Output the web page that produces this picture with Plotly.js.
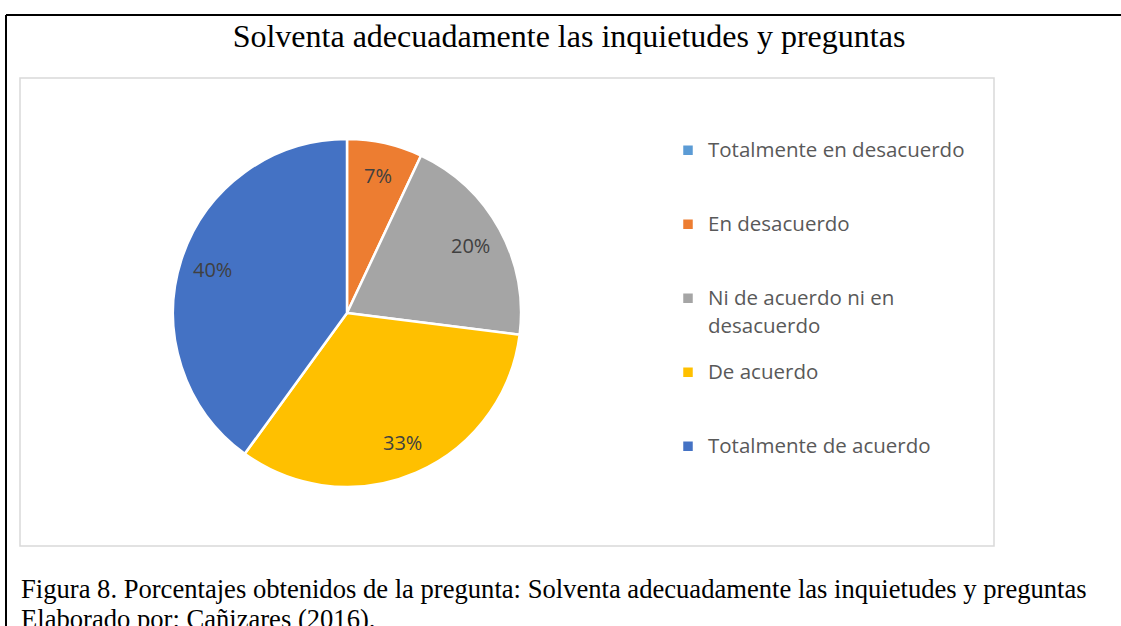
<!DOCTYPE html>
<html>
<head>
<meta charset="utf-8">
<script src="https://cdn.plot.ly/plotly-3.0.1.min.js"></script>
<style>
  html, body { margin: 0; padding: 0; background: #ffffff; }
  #chart { width: 1121px; height: 626px; }
</style>
</head>
<body>
<div id="chart"></div>
<script>
// ---- data ----
const chartTitle = 'Solventa adecuadamente las inquietudes y preguntas';
const categories = ['Totalmente en desacuerdo', 'En desacuerdo', 'Ni de acuerdo ni en<br>desacuerdo', 'De acuerdo', 'Totalmente de acuerdo'];
const percentages = [0, 7, 20, 33, 40];
const captionLines = [
  'Figura 8. Porcentajes obtenidos de la pregunta: Solventa adecuadamente las inquietudes y preguntas',
  'Elaborado por: Cañizares (2016).'
];

// ---- styles ----
const sliceColors = ['#5B9BD5', '#ED7D31', '#A5A5A5', '#FFC000', '#4472C4'];
const W = 1121, H = 626;
const px = v => v / W;
const py = v => 1 - v / H;
const pieDomain = { x: [px(173), px(521)], y: [py(487), py(139)] };
const labelFont = '"Open Sans", Lato, sans-serif';
const serifFont = '"Liberation Serif", "Times New Roman", serif';

// legend labels: every entry padded to 3 lines so entries are evenly spaced
const legendLabels = categories.map(c => {
  const lines = c.split('<br>').map((l, j) =>
    '<span style="font-size:20.5px' + (j > 0 ? ';baseline-shift:-4px' : '') + '">' + l + '</span>');
  while (lines.length < 3) lines.push(' ');
  return lines.join('<br>');
});

// data labels positioned along each slice bisector
const total = percentages.reduce((a, b) => a + b, 0);
const cxP = (pieDomain.x[0] + pieDomain.x[1]) / 2;
const cyP = (pieDomain.y[0] + pieDomain.y[1]) / 2;
const rPx = Math.min((pieDomain.x[1] - pieDomain.x[0]) * W, (pieDomain.y[1] - pieDomain.y[0]) * H) / 2;
const labelAnn = [];
let cum = 0;
percentages.forEach((v, i) => {
  const mid = (cum + v / 2) / total * 2 * Math.PI;
  cum += v;
  if (v <= 0) return;
  const rr = rPx * 0.81;
  labelAnn.push({
    xref: 'paper', yref: 'paper',
    x: cxP + rr * Math.sin(mid) / W,
    y: cyP + rr * Math.cos(mid) / H,
    xanchor: 'center', yanchor: 'middle',
    text: Math.round(v / total * 100) + '%',
    showarrow: false,
    font: { family: labelFont, size: 20, color: '#404040' }
  });
});

const captionAnn = captionLines.map((t, i) => ({
  xref: 'paper', yref: 'paper',
  x: px(19), y: py(589 + i * 30),
  xanchor: 'left', yanchor: 'middle',
  text: t, showarrow: false,
  font: { family: serifFont, size: 26.6, color: '#000000' }
}));

const trace = {
  type: 'pie',
  labels: legendLabels,
  values: percentages,
  sort: false,
  direction: 'clockwise',
  rotation: 0,
  textinfo: 'none',
  hoverinfo: 'skip',
  domain: pieDomain,
  marker: { colors: sliceColors, line: { color: '#ffffff', width: 2.5 } }
};

const layout = {
  width: W, height: H,
  margin: { l: 0, r: 0, t: 0, b: 0 },
  paper_bgcolor: '#ffffff',
  plot_bgcolor: '#ffffff',
  title: {
    text: chartTitle,
    xref: 'paper', yref: 'container',
    x: px(569), y: py(36), xanchor: 'center', yanchor: 'middle',
    font: { family: serifFont, size: 32, color: '#000000' }
  },
  showlegend: true,
  legend: {
    x: px(668), y: py(132), xanchor: 'left', yanchor: 'top',
    valign: 'top',
    font: { family: labelFont, size: 18.2, color: '#595959' },
    bgcolor: 'rgba(0,0,0,0)'
  },
  shapes: [
    { type: 'line', xref: 'paper', yref: 'paper', x0: px(6), x1: px(1125), y0: py(15), y1: py(15), line: { color: '#000000', width: 2 } },
    { type: 'line', xref: 'paper', yref: 'paper', x0: px(6), x1: px(6), y0: py(15), y1: py(630), line: { color: '#000000', width: 2 } },
    { type: 'rect', xref: 'paper', yref: 'paper', x0: px(20), x1: px(994), y0: py(78), y1: py(546), line: { color: '#d9d9d9', width: 1.5 }, layer: 'below' }
  ],
  annotations: labelAnn.concat(captionAnn)
};

Plotly.newPlot('chart', [trace], layout, { displayModeBar: false, staticPlot: true });
</script>
</body>
</html>
